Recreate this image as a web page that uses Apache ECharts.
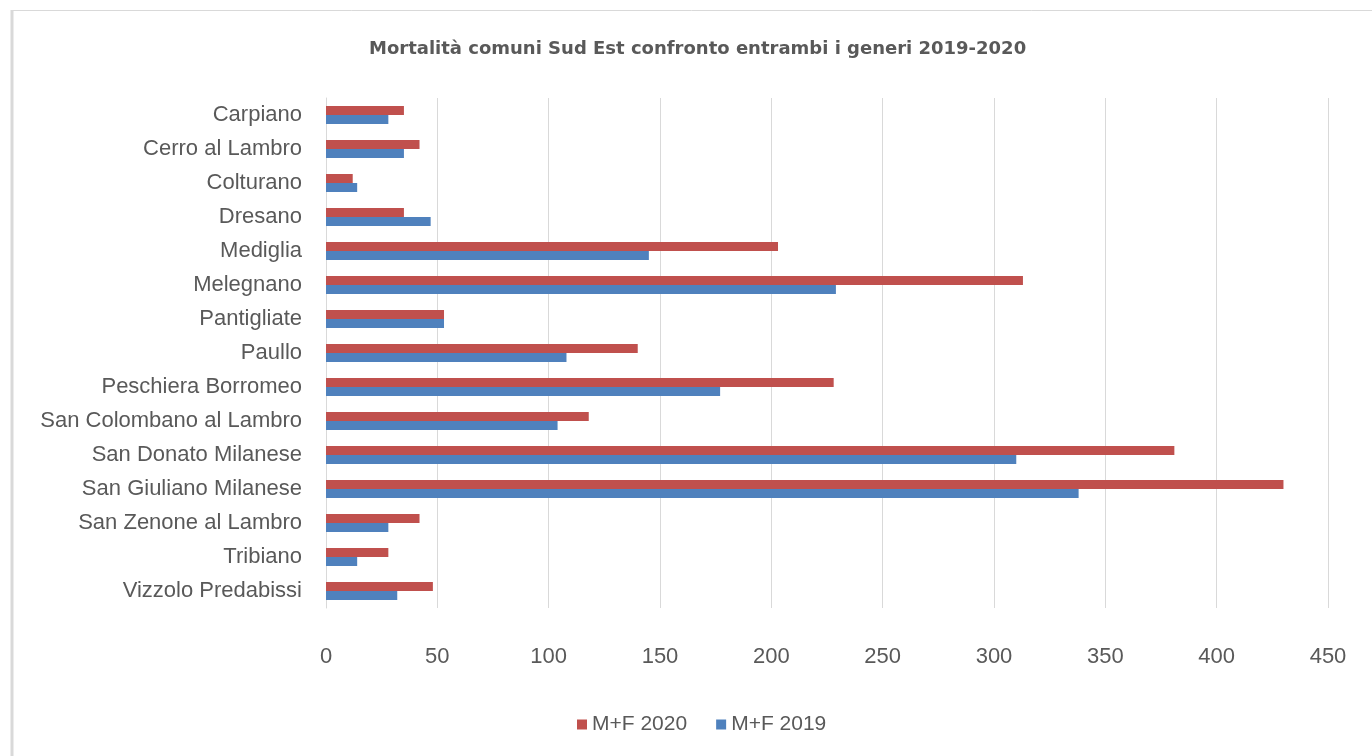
<!DOCTYPE html>
<html>
<head>
<meta charset="utf-8">
<script src="https://cdn.jsdelivr.net/npm/echarts@6/dist/echarts.min.js"></script>
<style>
  html, body { margin: 0; padding: 0; background: #ffffff; }
  #chart { width: 1372px; height: 756px; }
</style>
</head>
<body>
<div id="chart"></div>
<script>
const categories = [
  "Carpiano", "Cerro al Lambro", "Colturano", "Dresano", "Mediglia",
  "Melegnano", "Pantigliate", "Paullo", "Peschiera Borromeo",
  "San Colombano al Lambro", "San Donato Milanese", "San Giuliano Milanese",
  "San Zenone al Lambro", "Tribiano", "Vizzolo Predabissi"
];
const values2020 = [35, 42, 12, 35, 203, 313, 53, 140, 228, 118, 381, 430, 42, 28, 48];
const values2019 = [28, 35, 14, 47, 145, 229, 53, 108, 177, 104, 310, 338, 28, 14, 32];
const xTicks = { min: 0, max: 450, interval: 50 };
const titleText = "Mortalità comuni Sud Est confronto entrambi i generi 2019-2020";
const seriesNames = ["M+F 2020", "M+F 2019"];

const chart = echarts.init(document.getElementById('chart'), null, { renderer: 'canvas' });
const font = '"Liberation Sans", Arial, sans-serif';

chart.setOption({
  animation: false,
  backgroundColor: '#ffffff',
  title: {
    text: titleText,
    left: 364,
    top: 35,
    textStyle: { fontFamily: '"DejaVu Sans", sans-serif', fontSize: 18, fontWeight: 'bold', color: '#595959' }
  },
  legend: {
    data: seriesNames,
    bottom: 16,
    left: 572,
    itemWidth: 10,
    itemHeight: 10,
    itemGap: 29,
    icon: 'rect',
    textStyle: { fontFamily: font, fontSize: 21, color: '#595959' }
  },
  graphic: [
    { type: 'line', shape: { x1: 11, y1: 10.5, x2: 1372, y2: 10.5 }, style: { stroke: '#d9d9d9', lineWidth: 1 } },
    { type: 'line', shape: { x1: 12, y1: 10, x2: 12, y2: 756 }, style: { stroke: '#d9d9d9', lineWidth: 3 } }
  ],
  grid: { left: 326, right: 44, top: 98, bottom: 148, containLabel: false },
  xAxis: {
    type: 'value',
    min: xTicks.min,
    max: xTicks.max,
    interval: xTicks.interval,
    axisLine: { show: false },
    axisTick: { show: false },
    splitLine: { show: true, lineStyle: { color: '#d9d9d9', width: 1 } },
    axisLabel: { margin: 38, fontFamily: font, fontSize: 22, color: '#595959' }
  },
  yAxis: {
    type: 'category',
    data: categories,
    inverse: true,
    axisLine: { show: true, lineStyle: { color: '#d9d9d9', width: 1 } },
    axisTick: { show: false },
    axisLabel: { margin: 24, fontFamily: font, fontSize: 22, color: '#595959' }
  },
  series: [
    {
      name: seriesNames[0], type: 'bar', data: values2020,
      itemStyle: { color: '#C0504D' }, barWidth: 9, barGap: '0%'
    },
    {
      name: seriesNames[1], type: 'bar', data: values2019,
      itemStyle: { color: '#4F81BD' }, barWidth: 9, barGap: '0%'
    }
  ]
});
</script>
</body>
</html>
